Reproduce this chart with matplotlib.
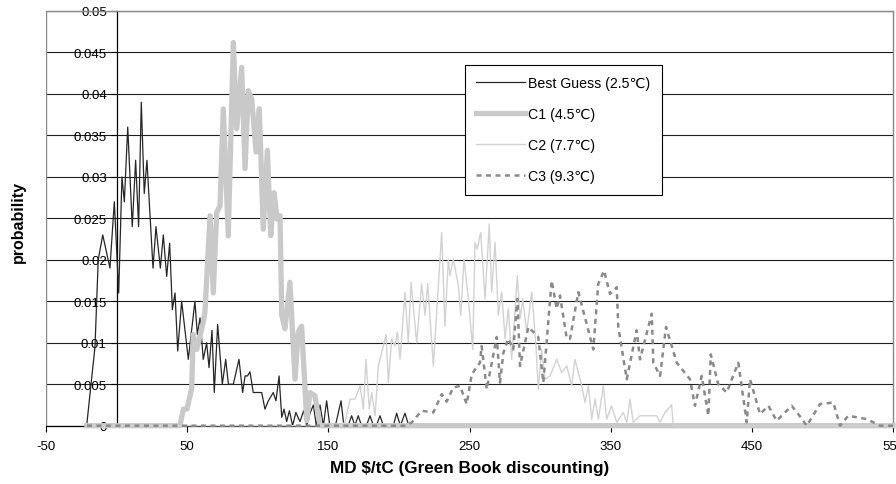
import matplotlib
matplotlib.use("Agg")
import matplotlib.pyplot as plt

plt.rcParams['font.family'] = ['Liberation Sans', 'DejaVu Sans']
plt.rcParams['axes.unicode_minus'] = False

# ---------------------------- data ----------------------------
best_x = [-21.2, -15.3, -13.0, -9.8, -4.7, -1.6, 1.5, 3.8, 5.5, 7.9, 11.1, 13.5, 15.6, 17.5, 19.6, 21.5,
          25.8, 27.9, 31.0, 33.1, 35.5, 37.6, 39.5, 41.4, 43.3, 46.1, 50.8, 55.5, 57.2, 59.1, 61.4, 63.8,
          65.5, 67.6, 69.2, 71.6, 74.9, 77.3, 79.2, 82.7, 86.7, 89.3, 91.0, 92.7, 94.5, 96.8, 102.8, 105.1,
          107.5, 111.0, 112.9, 115.1, 117.0, 118.6, 120.5, 122.4, 124.7, 127.0, 129.9, 132.5, 134.7, 137.0,
          139.4, 141.5, 144.1, 146.5, 148.8, 151.0, 155.0, 159.0, 161.0, 164.0, 166.5, 168.8, 171.2, 173.5,
          177.0, 179.5, 182.0, 184.0, 186.6, 189.0, 196.0, 198.4, 201.0, 204.3, 207.0, 550]
best_y = [0, 0.0095, 0.02, 0.023, 0.019, 0.027, 0.016, 0.030, 0.027, 0.036, 0.024, 0.032, 0.024, 0.039, 0.028,
          0.032, 0.019, 0.024, 0.019, 0.023, 0.018, 0.022, 0.014, 0.016, 0.009, 0.015, 0.008, 0.015, 0.011,
          0.013, 0.008, 0.010, 0.007, 0.0115, 0.004, 0.0122, 0.005, 0.008, 0.005, 0.005, 0.008, 0.004, 0.006,
          0.006, 0.0065, 0.004, 0.004, 0.002, 0.003, 0.004, 0.003, 0.006, 0.001, 0.002, 0.0005, 0.0018, 0,
          0.0016, 0.0005, 0.0018, 0, 0.0015, 0.0025, 0, 0.0025, 0, 0.003, 0, 0, 0.003, 0, 0, 0.0012, 0,
          0.0012, 0, 0, 0.0012, 0, 0, 0.0012, 0, 0, 0.0015, 0, 0.0015, 0, 0]

c1_x = [-21, 44.9, 47.3, 49.9, 53.2, 54.3, 56.8, 61.4, 62.6, 66.2, 68.5, 70.9, 73.3, 75.6, 79.1, 82.7, 85.1,
        88.6, 91.0, 93.3, 95.7, 98.8, 101.1, 103.9, 106.8, 109.2, 111.5, 113.8, 115.8, 117.0, 119.3, 122.8,
        126.4, 128.7, 131.1, 134.7, 137.0, 140.5, 144.1, 550]
c1_y = [0, 0, 0.002, 0.002, 0.0045, 0.011, 0.0092, 0.0125, 0.0137, 0.0253, 0.016, 0.0257, 0.0265, 0.0382,
        0.0229, 0.0462, 0.0358, 0.0432, 0.031, 0.0404, 0.0394, 0.033, 0.0382, 0.0237, 0.0332, 0.0229, 0.0281,
        0.0249, 0.0253, 0.0133, 0.0117, 0.0173, 0.0056, 0.0113, 0.012, 0.0006, 0.004, 0.0036, 0, 0]

c2_x = [-21, 158.0, 161.8, 165.4, 168.9, 172.5, 174.8, 176.7, 179.0, 180.7, 183.1, 185.4, 187.8, 190.9, 192.5,
        194.9, 197.2, 198.9, 200.8, 204.3, 206.6, 208.6, 212.6, 216.1, 218.5, 220.4, 224.4, 229.1, 230.3,
        232.6, 235.0, 236.2, 238.5, 242.1, 243.8, 246.1, 249.2, 252.3, 253.9, 255.5, 257.9, 261.0, 264.0,
        265.7, 268.1, 270.4, 272.8, 275.2, 277.5, 279.9, 283.9, 285.8, 287.7, 290.5, 294.1, 297.1, 298.7,
        301.1, 303.5, 307.0, 311.8, 315.3, 318.9, 322.4, 324.7, 329.5, 331.8, 334.2, 336.6, 338.9, 341.3,
        344.8, 347.2, 350.7, 354.3, 359.0, 361.4, 363.7, 366.0, 370.8, 382.6, 385.0, 388.5, 393.2, 394.3, 550]
c2_y = [0, 0, 0.0004, 0.0032, 0.0032, 0.0048, 0.002, 0.008, 0.002, 0.004, 0.0012, 0.0072, 0.0088, 0.011,
        0.0052, 0.0105, 0.0096, 0.0113, 0.008, 0.0161, 0.010, 0.0173, 0.010, 0.0171, 0.0133, 0.0171, 0.0072,
        0.0201, 0.0233, 0.012, 0.0201, 0.0181, 0.0201, 0.0169, 0.0133, 0.0201, 0.0153, 0.0092, 0.0221, 0.0213,
        0.0233, 0.0153, 0.0243, 0.0161, 0.0221, 0.0133, 0.0161, 0.0105, 0.0141, 0.008, 0.0181, 0.0129, 0.0153,
        0.0113, 0.0161, 0.0096, 0.0044, 0.0092, 0.0056, 0.006, 0.008, 0.0064, 0.0072, 0.0048, 0.008, 0.0048,
        0.0028, 0.0048, 0.0008, 0.0032, 0.0008, 0.0048, 0.0008, 0.0024, 0.0004, 0.0016, 0.0004, 0.0032,
        0.0004, 0.0012, 0.0012, 0.0004, 0.0016, 0.0025, 0, 0]

c3_x = [-21, 205.0, 209.1, 216.1, 224.4, 230.3, 233.8, 238.5, 243.3, 248.0, 251.6, 257.4, 258.6, 262.2, 269.3,
        271.6, 274.0, 277.5, 281.0, 283.9, 285.8, 291.7, 298.7, 302.3, 308.2, 311.8, 314.1, 318.9, 321.2,
        327.1, 337.7, 341.2, 345.3, 349.5, 354.3, 355.4, 361.4, 368.4, 370.8, 379.1, 380.2, 385.0, 389.2,
        396.8, 406.2, 409.7, 414.5, 419.2, 420.9, 426.2, 432.2, 440.4, 446.4, 448.7, 455.8, 461.7, 467.6,
        478.2, 482.9, 488.9, 498.3, 507.7, 512.5, 518.3, 531.4, 540.8, 550]
c3_y = [0, 0, 0.0004, 0.0018, 0.0016, 0.0038, 0.0029, 0.0046, 0.0048, 0.0026, 0.0062, 0.0076, 0.0096, 0.0044,
        0.0107, 0.0052, 0.0088, 0.0105, 0.0092, 0.0153, 0.0072, 0.0119, 0.0107, 0.0052, 0.0175, 0.0141,
        0.0157, 0.0105, 0.0105, 0.0161, 0.0092, 0.0171, 0.0187, 0.0159, 0.0167, 0.0119, 0.0056, 0.0115,
        0.008, 0.0135, 0.0076, 0.006, 0.0119, 0.0076, 0.0056, 0.0024, 0.006, 0.0012, 0.0086, 0.005, 0.004,
        0.0076, 0.0004, 0.0056, 0.0014, 0.0024, 0.0006, 0.0024, 0.0014, 0, 0.0026, 0.0028, 0, 0.0012,
        0.0008, 0, 0]

series_labels = ["Best Guess (2.5\u2103)", "C1 (4.5\u2103)", "C2 (7.7\u2103)", "C3 (9.3\u2103)"]
x_ticks = [-50, 50, 150, 250, 350, 450, 550]
y_ticks = [0, 0.005, 0.01, 0.015, 0.02, 0.025, 0.03, 0.035, 0.04, 0.045, 0.05]
y_tick_labels = ["0", "0.005", "0.01", "0.015", "0.02", "0.025", "0.03", "0.035", "0.04", "0.045", "0.05"]

# ---------------------------------- figure ----------------------------------------
fig = plt.figure(figsize=(8.96, 4.85), dpi=100)
ax = fig.add_axes([46 / 896, 1 - 426.7 / 485, 847 / 896, 414.7 / 485])

ax.plot(best_x, best_y, color="#262626", lw=0.9, label=series_labels[0], clip_on=False, zorder=3)
ax.plot(c1_x, c1_y, color="#c9c9c9", lw=3.8, label=series_labels[1], clip_on=False, zorder=4)
ax.plot(c2_x, c2_y, color="#d2d2d2", lw=1.0, label=series_labels[2], clip_on=False, zorder=5)
ax.plot(c3_x, c3_y, color="#8a8a8a", lw=1.8, dashes=(2, 1.8), label=series_labels[3], clip_on=False, zorder=6)

ax.set_xlim(-50, 550)
ax.set_ylim(0, 0.05)
ax.set_xticks(x_ticks)
ax.set_yticks(y_ticks)
ax.set_yticklabels(y_tick_labels)

# y axis crosses at x = 0, plot area framed in grey
ax.spines['left'].set_position(('data', 0))
ax.spines['left'].set_color('black')
ax.spines['left'].set_linewidth(0.9)
ax.spines['bottom'].set_color('black')
ax.spines['bottom'].set_linewidth(0.9)
for s in ['top', 'right']:
    ax.spines[s].set_color('#888888')
    ax.spines[s].set_linewidth(1.0)
ax.axvline(-50, color='#888888', lw=1.0, zorder=1)

ax.yaxis.grid(True, color='#1e1e1e', lw=0.8)
ax.set_axisbelow(True)

ax.tick_params(axis='y', direction='out', length=4, width=0.8, labelsize=9.5, pad=3)
ax.tick_params(axis='x', direction='out', length=4, width=0.8, labelsize=9.5, pad=6)

ax.set_xlabel(r"MD \$/tC (Green Book discounting)", fontsize=12.3, fontweight='bold', labelpad=6)
fig.text(18 / 896, 1 - 222 / 485, "probability", rotation=90, fontsize=11.5, fontweight='bold',
         ha='center', va='center')

leg = ax.legend(loc='upper left', bbox_to_anchor=(465 / 896, 1 - 66 / 485), bbox_transform=fig.transFigure,
                frameon=True, fancybox=False, edgecolor='black', framealpha=1, fontsize=10.2,
                handlelength=3.4, handletextpad=0.25, labelspacing=1.2, borderpad=0.8, borderaxespad=0)
leg.get_frame().set_linewidth(0.8)
leg.set_zorder(10)

fig.savefig("out.png", dpi=100)
